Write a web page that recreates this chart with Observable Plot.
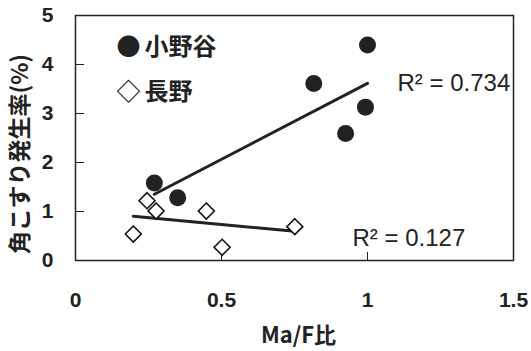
<!DOCTYPE html>
<html><head><meta charset="utf-8">
<script src="https://cdn.jsdelivr.net/npm/d3@7"></script>
<script src="https://cdn.jsdelivr.net/npm/@observablehq/plot@0.6"></script>
<style>body{margin:0;background:#fff}</style>
</head><body><div id="chart"></div>
<script>
// 小野谷 (filled circles)
const onoyaX = [1.00, 0.816, 0.993, 0.925, 0.27, 0.35];
const onoyaY = [4.40, 3.61, 3.13, 2.59, 1.58, 1.28];
// 長野 (open diamonds)
const naganoX = [0.245, 0.276, 0.448, 0.198, 0.502, 0.751];
const naganoY = [1.22, 1.01, 1.01, 0.54, 0.27, 0.69];
const xTicks = [0, 0.5, 1, 1.5];
const yTicks = [0, 1, 2, 3, 4, 5];
const seriesNames = ["小野谷", "長野"];
const r2Labels = ["R² = 0.734", "R² = 0.127"];
const xTitle = "Ma/F比";
const yTitle = "角こすり発生率(%)";

const onoya = onoyaX.map((x, i) => ({x, y: onoyaY[i]}));
const nagano = naganoX.map((x, i) => ({x, y: naganoY[i]}));
const num = "'Liberation Sans', Arial, sans-serif";
const cjk = "'Noto Sans CJK JP', sans-serif";

const chart = Plot.plot({
  width: 531, height: 351,
  marginLeft: 75, marginRight: 18, marginTop: 15, marginBottom: 91,
  style: {fontFamily: num, background: "#fff", color: "#222"},
  x: {domain: [0, 1.5]},
  y: {domain: [0, 5]},
  marks: [
    Plot.frame({stroke: "#222", strokeWidth: 1.5}),
    Plot.axisX({ticks: xTicks, tickFormat: d => String(d), tickSize: -8, tickPadding: 40,
      fontSize: 21, fontWeight: "bold", label: null, stroke: "#222"}),
    Plot.axisY({ticks: yTicks, tickFormat: d => String(d), tickSize: -9, tickPadding: 31,
      fontSize: 21, fontWeight: "bold", label: null, stroke: "#222"}),
    Plot.linearRegressionY(onoya, {x: "x", y: "y", ci: 0, stroke: "#222", strokeWidth: 3}),
    Plot.linearRegressionY(nagano, {x: "x", y: "y", ci: 0, stroke: "#222", strokeWidth: 3}),
    Plot.dot(onoya, {x: "x", y: "y", r: 8.5, fill: "#222", stroke: "none"}),
    Plot.dot(nagano, {x: "x", y: "y", r: 7.2, symbol: "diamond2", fill: "#fff", stroke: "#111", strokeWidth: 1.6}),
    Plot.text(["●\u2006" + seriesNames[0]], {frameAnchor: "top-left", dx: 41, dy: 32, textAnchor: "start", lineAnchor: "middle",
      fontFamily: cjk, fontSize: 24, fontWeight: "bold", fill: "#222"}),
    Plot.text(["◇\u2006" + seriesNames[1]], {frameAnchor: "top-left", dx: 41, dy: 77, textAnchor: "start", lineAnchor: "middle",
      fontFamily: cjk, fontSize: 24, fontWeight: "bold", fill: "#222"}),
    Plot.text([r2Labels[0]], {frameAnchor: "top-left", dx: 322, dy: 75, textAnchor: "start", lineAnchor: "bottom",
      fontSize: 24, fill: "#222"}),
    Plot.text([r2Labels[1]], {frameAnchor: "top-left", dx: 277, dy: 230, textAnchor: "start", lineAnchor: "bottom",
      fontSize: 24, fill: "#222"}),
    Plot.text([xTitle], {frameAnchor: "bottom", dx: 4, dy: 82, lineAnchor: "bottom", textAnchor: "middle",
      fontFamily: cjk, fontSize: 22, fontWeight: "bold", fill: "#222"}),
    Plot.text([yTitle], {frameAnchor: "left", dx: -55, dy: 16, rotate: -90, lineAnchor: "middle", textAnchor: "middle",
      fontFamily: cjk, fontSize: 23, fontWeight: "bold", fill: "#222"})
  ]
});
document.getElementById("chart").append(chart);
</script></body></html>
